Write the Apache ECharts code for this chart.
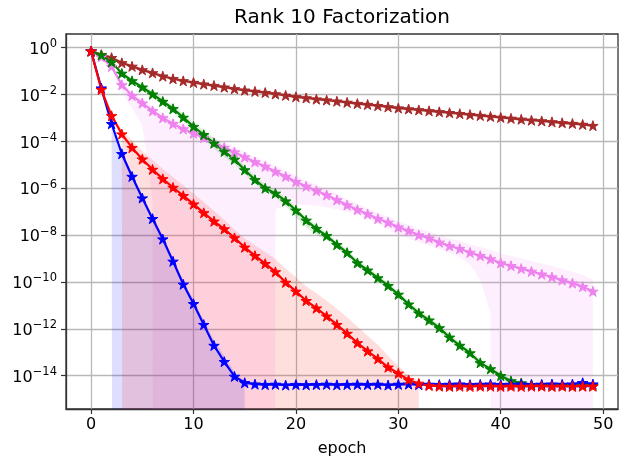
<!DOCTYPE html>
<html>
<head>
<meta charset="utf-8">
<script src="https://cdn.jsdelivr.net/npm/echarts@6/dist/echarts.min.js"></script>
<style>html,body{margin:0;padding:0;background:#fff}#c{width:629px;height:468px}</style>
</head>
<body>
<div id="c"></div>
<script>
// All loss values are stored as log10 exponents (y axis is log-scaled).
const epochs = [0,1,2,3,4,5,6,7,8,9,10,11,12,13,14,15,16,17,18,19,20,21,22,23,24,25,26,27,28,29,30,31,32,33,34,35,36,37,38,39,40,41,42,43,44,45,46,47,48,49];
const xTicks = [0,10,20,30,40,50];
const yTicks = [0,-2,-4,-6,-8,-10,-12,-14];
const FLOOR = -300; // band lower bound is non-positive (log -> -inf)

const brownLine = [-0.15,-0.30,-0.43,-0.65,-0.80,-0.95,-1.08,-1.22,-1.33,-1.42,-1.49,-1.56,-1.62,-1.69,-1.76,-1.82,-1.87,-1.92,-1.98,-2.04,-2.10,-2.15,-2.20,-2.24,-2.29,-2.34,-2.39,-2.43,-2.48,-2.53,-2.58,-2.62,-2.66,-2.70,-2.74,-2.78,-2.82,-2.86,-2.90,-2.94,-2.98,-3.02,-3.06,-3.10,-3.13,-3.17,-3.21,-3.24,-3.28,-3.33];
const brownUp = [0,0.05,0.06,0.07,0.08,0.08,0.08,0.08,0.08,0.08,0.08,0.08,0.08,0.08,0.08,0.08,0.08,0.08,0.08,0.08,0.08,0.08,0.08,0.08,0.08,0.08,0.08,0.08,0.08,0.08,0.08,0.08,0.08,0.08,0.08,0.08,0.08,0.08,0.08,0.08,0.08,0.08,0.08,0.08,0.08,0.08,0.08,0.08,0.08,0.08];
const brownDown = [0,0.05,0.06,0.07,0.08,0.08,0.08,0.08,0.08,0.08,0.08,0.08,0.08,0.08,0.08,0.08,0.08,0.08,0.08,0.08,0.08,0.08,0.08,0.08,0.08,0.08,0.08,0.08,0.08,0.08,0.08,0.08,0.08,0.08,0.08,0.08,0.08,0.08,0.08,0.08,0.08,0.08,0.08,0.08,0.08,0.08,0.08,0.08,0.08,0.08];

const greenLine = [-0.15,-0.32,-0.62,-1.10,-1.42,-1.69,-1.99,-2.30,-2.61,-2.98,-3.37,-3.72,-4.08,-4.43,-4.77,-5.22,-5.64,-6.00,-6.22,-6.55,-6.94,-7.37,-7.72,-8.03,-8.41,-8.75,-9.19,-9.50,-9.83,-10.16,-10.53,-10.95,-11.33,-11.63,-11.96,-12.36,-12.71,-13.03,-13.45,-13.71,-14.00,-14.22,-14.31,-14.38,-14.40,-14.42,-14.42,-14.43,-14.42,-14.43];
const greenUp = [0,0.05,0.08,0.10,0.12,0.13,0.14,0.15,0.16,0.17,0.18,0.20,0.22,0.22,0.20,0.18,0.16,0.15,0.16,0.16,0.15,0.15,0.15,0.14,0.14,0.15,0.15,0.14,0.14,0.14,0.15,0.14,0.14,0.15,0.15,0.14,0.14,0.14,0.13,0.13,0.12,0.10,0.08,0.06,0.05,0.05,0.05,0.05,0.05,0.05];
const greenDown = [0,0.05,0.08,0.10,0.12,0.13,0.14,0.15,0.16,0.17,0.18,0.20,0.25,0.25,0.20,0.18,0.16,0.15,0.18,0.22,0.30,0.32,0.25,0.18,0.15,0.15,0.15,0.14,0.14,0.14,0.15,0.14,0.14,0.15,0.15,0.16,0.16,0.14,0.13,0.12,0.10,0.08,0.06,0.05,0.05,0.05,0.05,0.05,0.05,0.05];

const violetLine = [-0.15,-0.40,-0.81,-1.59,-2.05,-2.37,-2.70,-3.00,-3.25,-3.47,-3.66,-3.84,-4.06,-4.26,-4.46,-4.67,-4.88,-5.07,-5.29,-5.50,-5.72,-5.92,-6.11,-6.29,-6.50,-6.72,-6.92,-7.10,-7.30,-7.46,-7.66,-7.82,-8.00,-8.13,-8.31,-8.46,-8.58,-8.74,-8.88,-9.02,-9.19,-9.31,-9.43,-9.55,-9.67,-9.79,-9.92,-10.05,-10.20,-10.40];
const violetUp = [0,0.05,0.10,0.15,0.15,0.18,0.20,0.20,0.20,0.20,0.20,0.20,0.20,0.22,0.22,0.22,0.22,0.24,0.25,0.25,0.26,0.26,0.26,0.26,0.26,0.26,0.26,0.26,0.25,0.25,0.25,0.26,0.27,0.28,0.30,0.32,0.33,0.35,0.37,0.38,0.40,0.42,0.44,0.45,0.46,0.47,0.48,0.50,0.50,0.50];
const violetDown = [0,0.05,0.09,0.31,0.55,0.93,3.8,null,null,null,null,null,null,null,null,null,null,null,1.61,1.25,0.98,0.78,0.64,0.53,0.40,0.28,0.20,0.20,0.20,0.29,0.34,0.33,0.30,0.32,0.29,0.29,0.37,0.51,1.02,2.28,null,null,null,null,null,null,null,null,null,null];

const redLine = [-0.15,-1.79,-2.91,-3.69,-4.27,-4.76,-5.20,-5.60,-5.97,-6.32,-6.68,-7.05,-7.41,-7.74,-8.12,-8.52,-8.88,-9.22,-9.57,-10.02,-10.40,-10.80,-11.12,-11.46,-11.82,-12.20,-12.60,-12.95,-13.28,-13.64,-13.90,-14.18,-14.33,-14.42,-14.45,-14.46,-14.45,-14.46,-14.45,-14.45,-14.46,-14.45,-14.46,-14.45,-14.45,-14.46,-14.45,-14.46,-14.45,-14.45];
const redUp = [0,0.05,0.10,0.20,0.30,0.35,0.40,0.42,0.44,0.45,0.46,0.46,0.45,0.40,0.36,0.38,0.45,0.50,0.55,0.58,0.60,0.62,0.64,0.66,0.68,0.70,0.70,0.66,0.60,0.48,0.32,0.20,0.10,0.05,0.04,0.04,0.04,0.04,0.04,0.04,0.04,0.04,0.04,0.04,0.04,0.04,0.04,0.04,0.04,0.04];
const redDown = [0,0.06,0.09,0.11,null,null,null,null,null,null,null,null,null,null,null,null,null,null,null,null,null,null,null,null,null,null,null,null,null,null,null,null,0.12,0.05,0.05,0.05,0.05,0.05,0.05,0.05,0.05,0.05,0.05,0.05,0.05,0.05,0.05,0.05,0.05,0.05];

const blueLine = [-0.15,-1.73,-3.25,-4.53,-5.50,-6.42,-7.30,-8.17,-9.12,-10.10,-10.93,-11.82,-12.71,-13.40,-14.03,-14.30,-14.36,-14.38,-14.37,-14.40,-14.38,-14.39,-14.38,-14.37,-14.39,-14.38,-14.37,-14.38,-14.37,-14.40,-14.37,-14.36,-14.38,-14.37,-14.38,-14.37,-14.36,-14.38,-14.37,-14.36,-14.38,-14.37,-14.36,-14.38,-14.37,-14.36,-14.37,-14.36,-14.30,-14.36];
const blueUp = [0,0.05,0.10,0.12,0.12,0.12,0.12,0.13,0.15,0.16,0.18,0.20,0.22,0.25,0.20,0.08,0.05,0.05,0.05,0.05,0.05,0.05,0.05,0.05,0.05,0.05,0.05,0.05,0.05,0.05,0.05,0.05,0.05,0.05,0.05,0.05,0.05,0.05,0.05,0.05,0.05,0.05,0.05,0.05,0.05,0.05,0.05,0.05,0.05,0.05];
const blueDown = [0,0.07,0.10,null,null,null,null,null,null,null,null,null,null,null,null,0.10,0.06,0.06,0.06,0.06,0.06,0.06,0.06,0.06,0.06,0.06,0.06,0.06,0.06,0.06,0.06,0.06,0.06,0.06,0.06,0.06,0.06,0.06,0.06,0.06,0.06,0.06,0.06,0.06,0.06,0.06,0.06,0.06,0.06,0.06];

const seriesDefs = [
  {name:'brown', color:'#a52a2a', line:brownLine, up:brownUp, down:brownDown},
  {name:'violet', color:'#ee82ee', line:violetLine, up:violetUp, down:violetDown},
  {name:'green', color:'#008000', line:greenLine, up:greenUp, down:greenDown},
  {name:'blue', color:'#0000ff', line:blueLine, up:blueUp, down:blueDown},
  {name:'red', color:'#ff0000', line:redLine, up:redUp, down:redDown}
];

const STAR = 'path://M100 0 L122.45 69.1 L195.11 69.1 L136.33 111.8 L158.78 180.9 L100 138.2 L41.22 180.9 L63.67 111.8 L4.89 69.1 L77.55 69.1 Z';
const FONT = 'DejaVu Sans';

function bandSeries(d) {
  return {
    type: 'custom', name: d.name + ' band', coordinateSystem: 'cartesian2d',
    silent: true, clip: true, z: 1, animation: false,
    data: [[epochs[0], d.line[0]]],
    encode: {x: 0, y: 1},
    renderItem: function (params, api) {
      const pts = [];
      for (let i = 0; i < epochs.length; i++) pts.push(api.coord([epochs[i], d.line[i] + d.up[i]]));
      for (let i = epochs.length - 1; i >= 0; i--) {
        const lo = d.down[i] === null ? FLOOR : d.line[i] - d.down[i];
        pts.push(api.coord([epochs[i], lo]));
      }
      const cs = params.coordSys;
      return {
        type: 'polygon',
        shape: {points: pts},
        style: {fill: d.color, opacity: 0.13, stroke: null},
        clipPath: {type: 'rect', shape: {x: cs.x, y: cs.y, width: cs.width, height: cs.height}}
      };
    }
  };
}

function lineSeries(d) {
  return {
    type: 'line', name: d.name, z: 3,
    data: epochs.map((e, i) => [e, d.line[i]]),
    symbol: STAR, symbolSize: 10.5, symbolKeepAspect: true, showAllSymbol: true,
    lineStyle: {color: d.color, width: 2.2},
    itemStyle: {color: d.color, borderColor: d.color, borderWidth: 1},
    animation: false
  };
}

function expLabel(v) {
  const n = Math.round(v);
  const s = n < 0 ? '\u2212' + Math.abs(n) : String(n);
  return '{b|10}{s|' + s + '}';
}

const chart = echarts.init(document.getElementById('c'), null, {renderer: 'canvas'});
chart.setOption({
  animation: false,
  backgroundColor: '#ffffff',
  title: {
    text: 'Rank 10 Factorization', left: 342, top: 8, padding: 0, textAlign: 'center',
    textStyle: {fontFamily: FONT, fontSize: 20, fontWeight: 'normal', color: '#000'}
  },
  grid: {left: 66, right: 11, top: 34, bottom: 59, show: true, borderColor: '#333', borderWidth: 1.3, backgroundColor: 'transparent'},
  xAxis: {
    type: 'value', min: -2.45, max: 51.45,
    name: 'epoch', nameLocation: 'middle', nameGap: 32,
    nameTextStyle: {fontFamily: FONT, fontSize: 16, color: '#000'},
    axisLine: {show: true, onZero: false, lineStyle: {color: '#333', width: 1.3}},
    axisTick: {show: true, length: 5, customValues: xTicks, lineStyle: {color: '#333', width: 1.2}},
    axisLabel: {customValues: xTicks, fontFamily: FONT, fontSize: 16, color: '#000', margin: 8},
    splitLine: {show: true, customValues: xTicks, lineStyle: {color: '#b8b8b8', width: 1.3}}
  },
  yAxis: {
    type: 'value', min: -15.42, max: 0.58,
    axisLine: {show: true, onZero: false, lineStyle: {color: '#333', width: 1.3}},
    axisTick: {show: true, length: 5, customValues: yTicks, lineStyle: {color: '#333', width: 1.2}},
    axisLabel: {
      customValues: yTicks, margin: 9, color: '#000', formatter: expLabel,
      rich: {
        b: {fontFamily: FONT, fontSize: 16, lineHeight: 16, color: '#000', padding: [4, 0, 0, 0]},
        s: {fontFamily: FONT, fontSize: 11.5, lineHeight: 12, color: '#000', padding: [0, 0, 7, 0]}
      }
    },
    splitLine: {show: true, customValues: yTicks, lineStyle: {color: '#b8b8b8', width: 1.3}}
  },
  series: seriesDefs.map(bandSeries).concat(seriesDefs.map(lineSeries))
});
</script>
</body>
</html>
